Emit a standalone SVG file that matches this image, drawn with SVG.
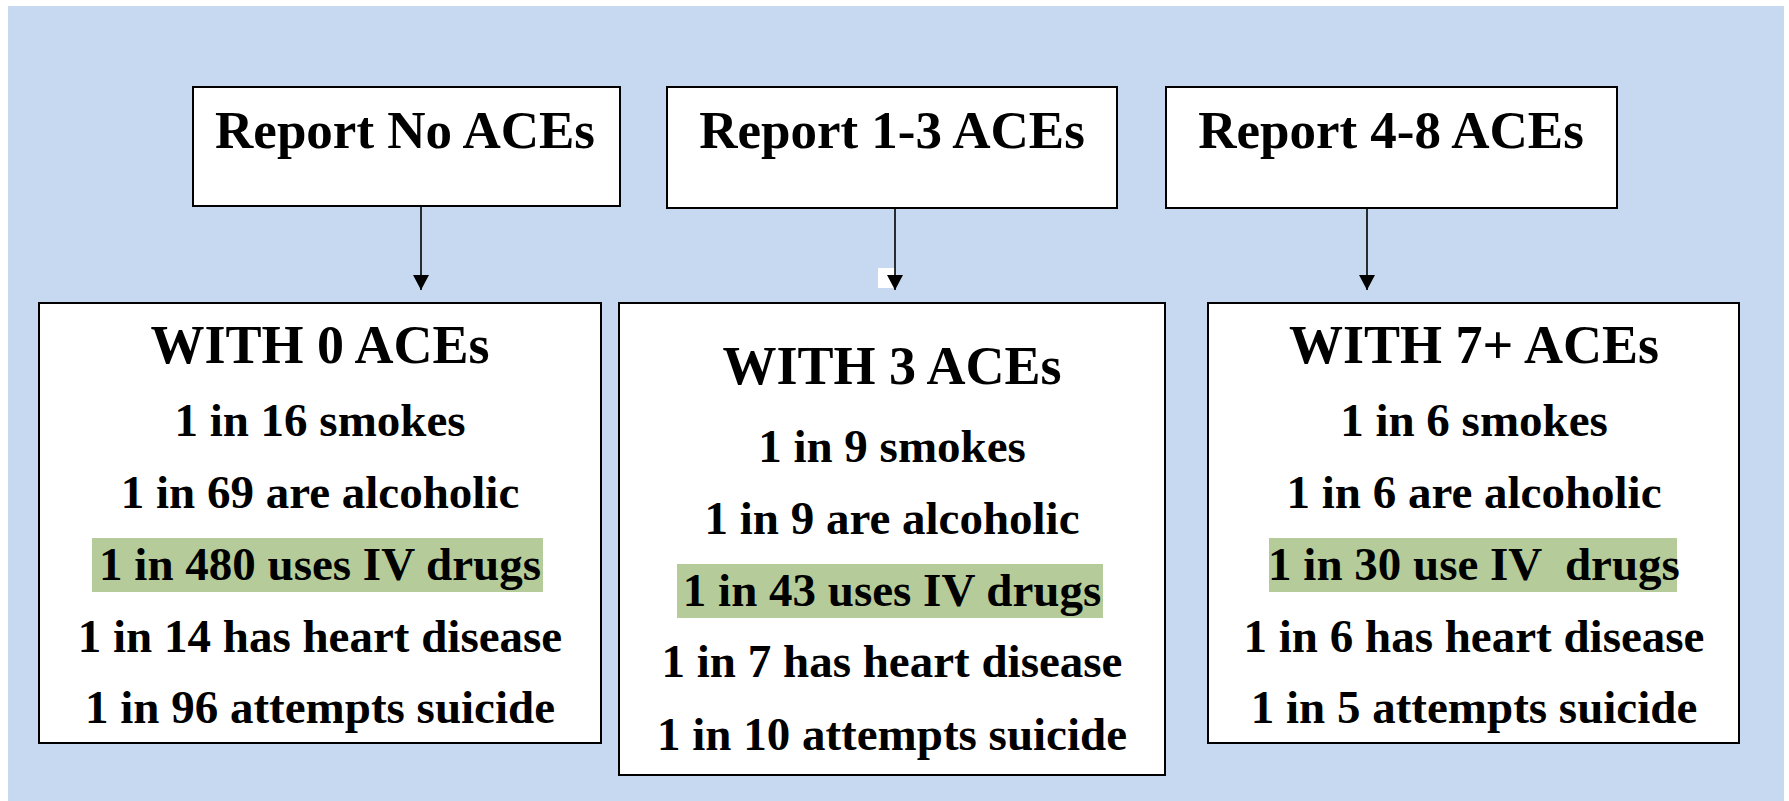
<svg xmlns="http://www.w3.org/2000/svg" width="1789" height="801" viewBox="0 0 1789 801">
<defs>
<style>
.box{fill:#ffffff;stroke:#000000;stroke-width:2}
.hl{fill:#b5cc9a}
text{font-family:"Liberation Serif","Times New Roman",serif;font-weight:bold;fill:#000000;text-anchor:middle}
.hd{font-size:53px}
.tt{font-size:54px}
.ln{font-size:47px}
.conn{stroke:#000000;stroke-width:1.6;fill:none}
</style>
<marker id="arr" markerWidth="16" markerHeight="16" refX="15" refY="8" orient="auto" markerUnits="userSpaceOnUse">
<path d="M0,0 L15,8 L0,16 Z" fill="#000000"/>
</marker>
</defs>
<rect x="0" y="0" width="1789" height="801" fill="#ffffff"/>
<rect x="8" y="6" width="1776" height="795" fill="#c6d9f0"/>

<g id="connectors">
<line class="conn" x1="421" y1="206" x2="421" y2="290" marker-end="url(#arr)"/>
<rect x="878" y="268" width="17" height="20" fill="#ffffff"/>
<line class="conn" x1="895" y1="208" x2="895" y2="290" marker-end="url(#arr)"/>
<line class="conn" x1="1367" y1="208" x2="1367" y2="290" marker-end="url(#arr)"/>
</g>

<g id="report-none">
<rect class="box" x="193" y="87" width="427" height="119"/>
<text class="hd" x="405" y="148">Report No ACEs</text>
</g>
<g id="report-1-3">
<rect class="box" x="667" y="87" width="450" height="121"/>
<text class="hd" x="892" y="148">Report 1-3 ACEs</text>
</g>
<g id="report-4-8">
<rect class="box" x="1166" y="87" width="451" height="121"/>
<text class="hd" x="1391" y="148">Report 4-8 ACEs</text>
</g>

<g id="with-0">
<rect class="box" x="39" y="303" width="562" height="440"/>
<rect class="hl" x="92" y="538" width="451" height="54"/>
<text class="tt" x="320" y="363">WITH 0 ACEs</text>
<text class="ln" x="320" y="436">1 in 16 smokes</text>
<text class="ln" x="320" y="508">1 in 69 are alcoholic</text>
<text class="ln" x="320" y="580">1 in 480 uses IV drugs</text>
<text class="ln" x="320" y="652">1 in 14 has heart disease</text>
<text class="ln" x="320" y="723">1 in 96 attempts suicide</text>
</g>

<g id="with-3">
<rect class="box" x="619" y="303" width="546" height="472"/>
<rect class="hl" x="677" y="564" width="426" height="54"/>
<text class="tt" x="892" y="384">WITH 3 ACEs</text>
<text class="ln" x="892" y="462">1 in 9 smokes</text>
<text class="ln" x="892" y="534">1 in 9 are alcoholic</text>
<text class="ln" x="892" y="606">1 in 43 uses IV drugs</text>
<text class="ln" x="892" y="677">1 in 7 has heart disease</text>
<text class="ln" x="892" y="750">1 in 10 attempts suicide</text>
</g>

<g id="with-7plus">
<rect class="box" x="1208" y="303" width="531" height="440"/>
<rect class="hl" x="1269" y="538" width="408" height="54"/>
<text class="tt" x="1474" y="363">WITH 7+ ACEs</text>
<text class="ln" x="1474" y="436">1 in 6 smokes</text>
<text class="ln" x="1474" y="508">1 in 6 are alcoholic</text>
<text class="ln" x="1474" y="580" xml:space="preserve">1 in 30 use IV  drugs</text>
<text class="ln" x="1474" y="652">1 in 6 has heart disease</text>
<text class="ln" x="1474" y="723">1 in 5 attempts suicide</text>
</g>
</svg>
